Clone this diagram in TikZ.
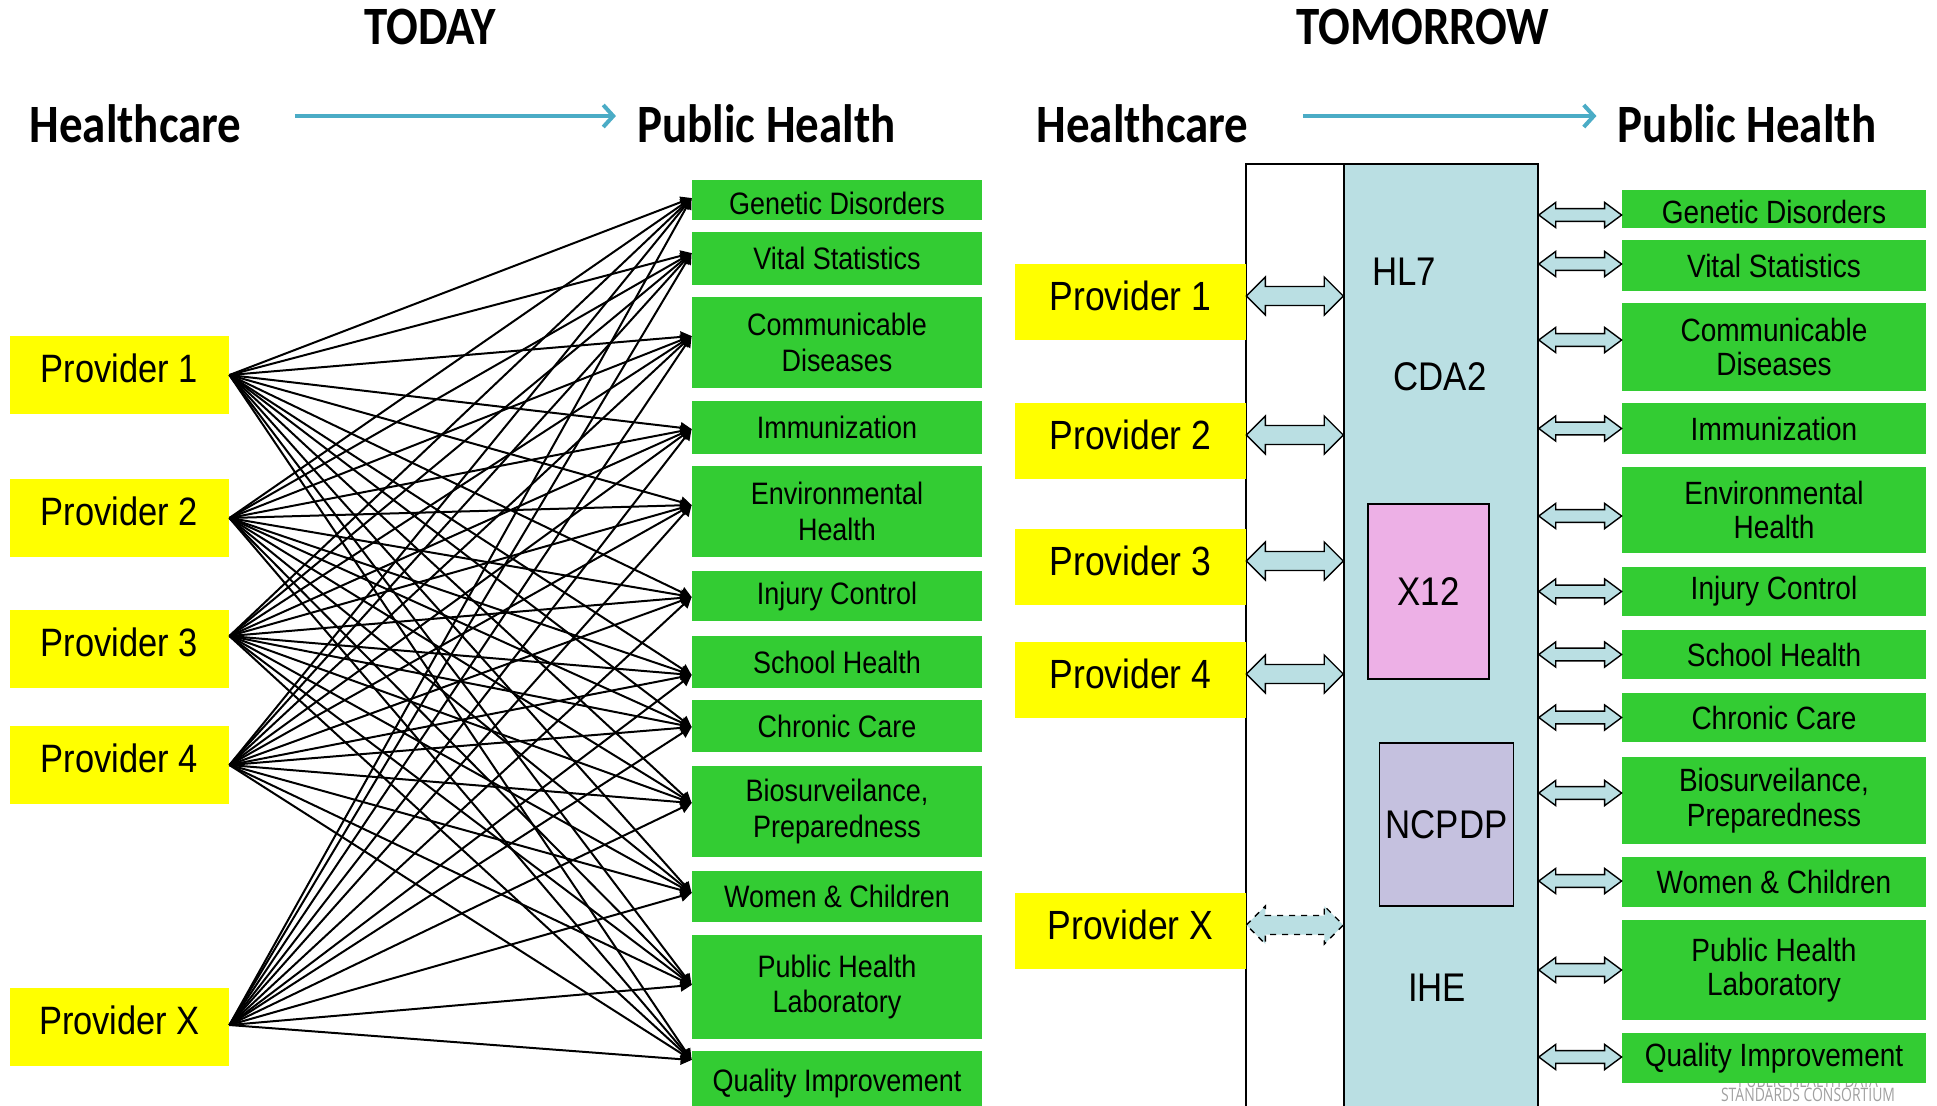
\documentclass[tikz,border=0pt]{standalone}
\usepackage{fontspec}
\setmainfont{Liberation Sans}[FakeStretch=0.87]
\newfontfamily\headfont{Carlito}[FakeStretch=0.87]
\newfontfamily\logofont{Open Sans}[FakeStretch=0.75]
\usetikzlibrary{arrows.meta}
\usetikzlibrary{calc}

\definecolor{provyellow}{RGB}{255,255,0}
\definecolor{phgreen}{RGB}{51,204,51}
\definecolor{hubblue}{RGB}{186,223,227}
\definecolor{xpink}{RGB}{237,176,230}
\definecolor{ncpurple}{RGB}{197,193,223}
\definecolor{flowblue}{RGB}{75,172,198}
\definecolor{logogrey}{RGB}{160,160,160}

\tikzset{
  heading/.style={inner sep=0pt,
    font=\headfont\bfseries\fontsize{27}{30}\selectfont},
  tprov/.style={fill=provyellow, minimum width=109.5pt, minimum height=39pt,
    inner sep=0pt, text depth=7pt, font=\fontsize{19.8}{22}\selectfont},
  mprov/.style={fill=provyellow, minimum width=115.5pt, minimum height=38pt,
    inner sep=0pt, text depth=6pt, font=\fontsize{20.4}{23}\selectfont},
  tbox/.style={fill=phgreen, minimum width=145pt, inner sep=0pt, align=center,
    font=\fontsize{15.5}{17.9}\selectfont},
  mbox/.style={fill=phgreen, minimum width=152pt, inner sep=0pt, align=center,
    font=\fontsize{16.1}{17.3}\selectfont},
  feed/.style={line width=1pt, -{Triangle[length=5.5pt,width=5.5pt]}},
  flow/.style={flowblue, line width=2pt, -{Straight Barb[length=5pt,width=11pt]}},
  lane/.style={draw=black, fill=white, line width=0.75pt, inner sep=0pt,
    minimum width=49pt, minimum height=475.5pt},
  hubbox/.style={draw=black, fill=hubblue, line width=0.75pt, inner sep=0pt,
    minimum width=97pt, minimum height=475.5pt},
  protocol/.style={draw=black, line width=0.75pt, inner sep=0pt,
    font=\fontsize{20}{23}\selectfont},
  hublabel/.style={inner sep=0pt, font=\fontsize{20}{23}\selectfont},
  twowaybox/.style={draw=black, fill=hubblue, line width=0.7pt, line join=miter},
  logo/.style={logogrey, inner sep=0pt, align=center,
    font=\logofont\fontsize{9.3}{7}\selectfont}
}

% two headed block arrow: start (y taken from it), end, shaft half, head half, head length
\newcommand\twoway[6][]{%
  \draw[twowaybox,#1]
    let
      \p1=(#2),
      \p2=(#3)
    in
    (\x1,\y1)
    -- (\x1+#6,\y1+#5)
    -- (\x1+#6,\y1+#4)
    -- (\x2-#6,\y1+#4)
    -- (\x2-#6,\y1+#5)
    -- (\x2,\y1)
    -- (\x2-#6,\y1-#5)
    -- (\x2-#6,\y1-#4)
    -- (\x1+#6,\y1-#4)
    -- (\x1+#6,\y1-#5)
    -- cycle;}

\begin{document}
\begin{tikzpicture}[x=0.5pt,y=-0.5pt]
  \useasboundingbox
    (0,0)
    rectangle
    (1937,1105);

% today
  \node[heading] (today) at (430,27) {TODAY};
  \node[heading] (hc1) at (135.5,124) {Healthcare};
  \node[heading] (ph1) at (766.5,124) {Public Health};
  \draw[flow, shorten <=26.5pt, shorten >=10.5pt]
    ([yshift=4pt]hc1.east)
    --
    ([yshift=4pt]ph1.west);

  \node[tprov] (tp1) at (119.5,375) {Provider 1};
  \node[tprov] (tp2) at (119.5,518) {Provider 2};
  \node[tprov] (tp3) at (119.5,649) {Provider 3};
  \node[tprov] (tp4) at (119.5,765) {Provider 4};
  \node[tprov] (tpx) at (119.5,1027) {Provider X};

  \node[tbox, minimum height=20pt, text height=14pt, text depth=0pt]
    (tg1) at (837,200) {Genetic Disorders};
  \node[tbox, minimum height=26.5pt] (tg2) at (837,258.5) {Vital Statistics};
  \node[tbox, minimum height=45.5pt] (tg3) at (837,342.5) {Communicable\\Diseases};
  \node[tbox, minimum height=26.5pt] (tg4) at (837,427.5) {Immunization};
  \node[tbox, minimum height=45.5pt] (tg5) at (837,511.5) {Environmental\\Health};
  \node[tbox, minimum height=25pt] (tg6) at (837,596) {Injury Control};
  \node[tbox, minimum height=26pt] (tg7) at (837,662) {School Health};
  \node[tbox, minimum height=26pt] (tg8) at (837,726) {Chronic Care};
  \node[tbox, minimum height=45.5pt] (tg9) at (837,811.5) {Biosurveilance,\\Preparedness};
  \node[tbox, minimum height=25.5pt] (tg10) at (837,896.5) {Women \& Children};
  \node[tbox, minimum height=52pt] (tg11) at (837,987) {Public Health\\Laboratory};
  \node[tbox, minimum height=32pt] (tg12) at (837,1083) {Quality Improvement};

  \foreach \p/\o in {tp1/0,tp2/0,tp3/-13,tp4/0,tpx/-2}
    \foreach \i/\s in {1/-2,2/-5.5,3/-6.5,4/1.5,5/-6.5,6/1,7/13,8/1,9/-8.5,10/-3.5,11/-2,12/-23}
      \draw[feed]
        ($(\p.east)+(0,\o)$)
        --
        ($(tg\i.west)+(0,\s)$);

% tomorrow
  \node[heading] (tomorrow) at (1423,27) {TOMORROW};
  \node[heading] (hc2) at (1142.5,124) {Healthcare};
  \node[heading] (ph2) at (1747,124) {Public Health};
  \draw[flow, shorten <=27pt, shorten >=10.5pt]
    ([yshift=4pt]hc2.east)
    --
    ([yshift=4pt]ph2.west);

  \node[lane] (gap) at (1295,639.5) {};
  \node[hubbox] (hub) at (1441,639.5) {};
  \node[hublabel] (hl7) at (1404,272) {HL7};
  \node[hublabel] (cda) at (1440,377) {CDA2};
  \node[protocol, fill=xpink, minimum width=60.5pt, minimum height=87.5pt]
    (x12) at (1428.5,591.5) {X12};
  \node[protocol, fill=ncpurple, minimum width=67pt, minimum height=81.5pt]
    (ncpdp) at (1446.5,824.5) {NCPDP};
  \node[hublabel] (ihe) at (1437,988) {IHE};

  \node[mprov] (mp1) at (1130.5,302) {Provider 1};
  \node[mprov] (mp2) at (1130.5,441) {Provider 2};
  \node[mprov] (mp3) at (1130.5,567) {Provider 3};
  \node[mprov] (mp4) at (1130.5,680) {Provider 4};
  \node[mprov] (mpx) at (1130.5,931) {Provider X};

  \node[logo] (pdsc) at (1808,1088) {PUBLIC HEALTH DATA\\STANDARDS CONSORTIUM};

  \node[mbox, minimum height=19pt, text height=14.3pt, text depth=0pt]
    (mg1) at (1774,209) {Genetic Disorders};
  \node[mbox, minimum height=25.5pt] (mg2) at (1774,265.5) {Vital Statistics};
  \node[mbox, minimum height=44pt] (mg3) at (1774,347) {Communicable\\Diseases};
  \node[mbox, minimum height=25.5pt] (mg4) at (1774,428.5) {Immunization};
  \node[mbox, minimum height=43pt] (mg5) at (1774,510) {Environmental\\Health};
  \node[mbox, minimum height=24.5pt] (mg6) at (1774,591.5) {Injury Control};
  \node[mbox, minimum height=24.5pt] (mg7) at (1774,654.5) {School Health};
  \node[mbox, minimum height=24.5pt] (mg8) at (1774,717.5) {Chronic Care};
  \node[mbox, minimum height=43.5pt] (mg9) at (1774,800.5) {Biosurveilance,\\Preparedness};
  \node[mbox, minimum height=25pt] (mg10) at (1774,882) {Women \& Children};
  \node[mbox, minimum height=50pt] (mg11) at (1774,970) {Public Health\\Laboratory};
  \node[mbox, minimum height=25pt] (mg12) at (1774,1058) {Quality Improvement};

  \foreach \i in {1,...,4}
    \twoway{[yshift=3pt]mp\i.east}{hub.west}{4.75pt}{9.5pt}{9.5pt};
  \twoway[dashed]{[yshift=3pt]mpx.east}{hub.west}{4.75pt}{9.5pt}{9.5pt};

  \foreach \i/\s in {1/6,2/-1.5,3/-7,4/0,5/6,6/0,7/0,8/0,9/-7.5,10/-1,11/0,12/-1}
    \twoway{$(hub.east |- mg\i.west)+(0,\s)$}{mg\i.west}{3.2pt}{6.3pt}{8.5pt};
\end{tikzpicture}
\end{document}
